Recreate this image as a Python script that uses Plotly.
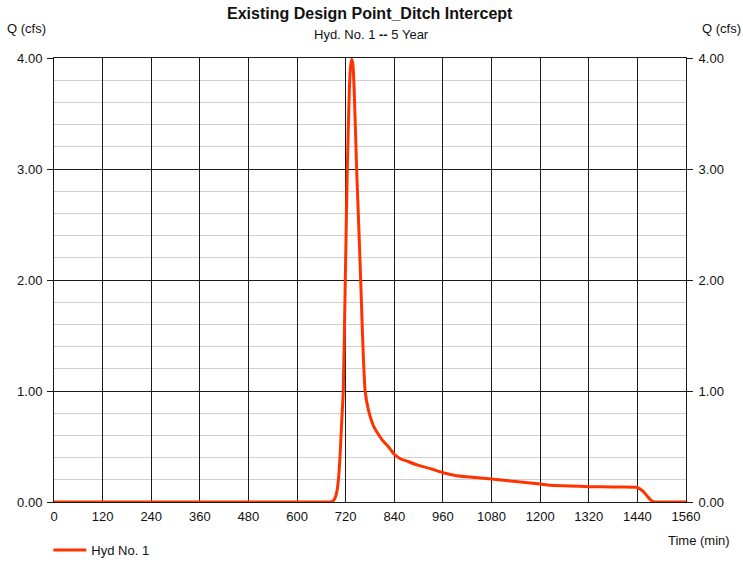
import plotly.graph_objects as go

# Hydrograph ordinates: time (min) and discharge (cfs)
time_min = [0, 120, 240, 360, 480, 600, 660, 680, 689, 694, 698, 702, 706, 710, 714, 719,
            724, 729, 732, 735, 738,
            741, 747, 752, 757, 762, 768, 776, 788, 797, 810, 825, 840, 855, 870,
            900, 930, 961, 994, 1040, 1080, 1140, 1200, 1224, 1270, 1323, 1380,
            1438, 1446, 1455, 1465, 1472, 1479, 1490, 1500, 1530, 1560]
flow_cfs = [0.0, 0.0, 0.0, 0.0, 0.0, 0.0, 0.0, 0.0, 0.01, 0.04, 0.09, 0.2, 0.41, 0.71, 1.0, 2.0,
            3.0, 3.71, 3.92, 3.99, 3.93,
            3.71, 3.0, 2.51, 2.0, 1.46, 1.0, 0.83, 0.69, 0.63, 0.56, 0.5, 0.43, 0.39, 0.37,
            0.33, 0.3, 0.264, 0.237, 0.22, 0.207, 0.185, 0.162, 0.15, 0.145, 0.138, 0.135,
            0.132, 0.118, 0.093, 0.05, 0.022, 0.003, 0.0, 0.0, 0.0, 0.0]

x_ticks = list(range(0, 1561, 120))
y_ticks = [0, 1, 2, 3, 4]

FONT = "Liberation Sans, Arial, sans-serif"
LINE_COLOR = "#ff3300"
GRID = "#1a1a1a"
TXT = "#111"

fig = go.Figure()
# invisible trace to carry the left-hand (grid) axis
fig.add_trace(go.Scatter(x=[0], y=[0], mode="lines",
                         line=dict(width=0), showlegend=False, hoverinfo="skip"))
# hydrograph drawn on the overlaying axis so it sits above all axis lines
fig.add_trace(go.Scatter(
    x=time_min, y=flow_cfs, yaxis="y2", mode="lines", name="Hyd No. 1", cliponaxis=False,
    line=dict(color=LINE_COLOR, width=3, shape="spline", smoothing=0.6),
))

fig.update_layout(
    width=743, height=562,
    margin=dict(l=54, r=57, t=58, b=60, autoexpand=False),
    paper_bgcolor="white", plot_bgcolor="white",
    font=dict(family=FONT, size=13, color=TXT),
    showlegend=True,
    legend=dict(x=-0.009, xanchor="left", y=-0.108, yanchor="middle",
                font=dict(size=13), bgcolor="rgba(0,0,0,0)", itemwidth=33),
    xaxis=dict(range=[0, 1560], tickvals=x_ticks, ticktext=[str(v) for v in x_ticks],
               showgrid=True, gridcolor=GRID, gridwidth=1, layer="below traces",
               showline=True, linecolor=GRID, mirror=True, linewidth=1,
               ticks="", zeroline=False, tickfont=dict(size=13), ticklabelstandoff=2),
    yaxis=dict(range=[0, 4], tickvals=y_ticks, ticktext=[f"{v:.2f}" for v in y_ticks],
               showgrid=True, gridcolor=GRID, gridwidth=1, layer="below traces",
               minor=dict(dtick=0.2, showgrid=True, gridcolor="#cfcfcf", gridwidth=1),
               showline=True, linecolor=GRID, mirror=True, linewidth=1,
               ticks="outside", ticklen=6, tickcolor=GRID, zeroline=False,
               tickfont=dict(size=13), ticklabelstandoff=2),
    yaxis2=dict(range=[0, 4], tickvals=y_ticks, ticktext=[f"{v:.2f}" for v in y_ticks],
                overlaying="y", side="right", showgrid=False, zeroline=False,
                layer="below traces",
                ticks="outside", ticklen=6, tickcolor=GRID, tickfont=dict(size=13),
                ticklabelstandoff=3),
)

annotations = [
    dict(text="<b>Existing Design Point_Ditch Intercept</b>", x=370, y=14, size=16),
    dict(text="Hyd. No. 1 <b>--</b> 5 Year", x=371, y=35, size=13),
]
for a in annotations:
    fig.add_annotation(text=a["text"], xref="paper", yref="paper",
                       x=(a["x"] - 54) / 632, y=(502 - a["y"]) / 444,
                       xanchor="center", yanchor="middle", showarrow=False,
                       font=dict(size=a["size"], family=FONT, color=TXT))

fig.add_annotation(text="Q (cfs)", xref="paper", yref="paper",
                   x=(5 - 54) / 632, y=(502 - 28) / 444, xanchor="left", yanchor="middle",
                   showarrow=False, font=dict(size=13, family=FONT, color=TXT))
fig.add_annotation(text="Q (cfs)", xref="paper", yref="paper",
                   x=(743 - 54) / 632, y=(502 - 28) / 444, xanchor="right", yanchor="middle",
                   showarrow=False, font=dict(size=13, family=FONT, color=TXT))
fig.add_annotation(text="Time (min)", xref="paper", yref="paper",
                   x=(732 - 54) / 632, y=(502 - 540) / 444, xanchor="right", yanchor="middle",
                   showarrow=False, font=dict(size=13, family=FONT, color=TXT))

fig.write_html("out.html")
